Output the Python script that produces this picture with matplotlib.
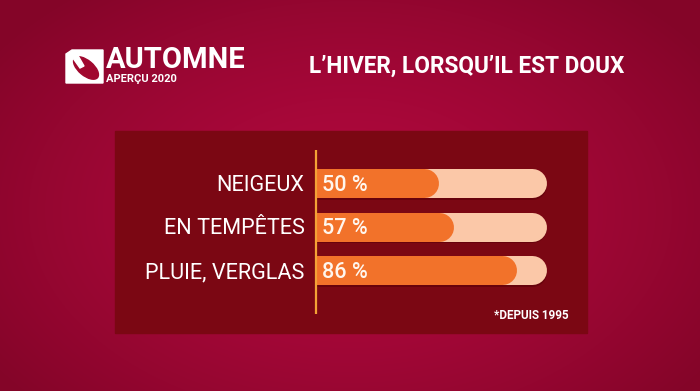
import numpy as np
from matplotlib import pyplot as plt
import matplotlib.patches as mpatches

categories = ['NEIGEUX', 'EN TEMPÊTES', 'PLUIE, VERGLAS']
values = [50, 57, 86]
value_labels = ['50 %', '57 %', '86 %']
title = 'L’HIVER, LORSQU’IL EST DOUX'
footnote = '*DEPUIS 1995'

W, H = 700, 391

fig = plt.figure(figsize=(W / 100, H / 100), dpi=100)

# background in pixel coordinates
bg = fig.add_axes([0, 0, 1, 1])
bg.set_xlim(0, W)
bg.set_ylim(H, 0)
bg.axis('off')
yy, xx = np.mgrid[0:H, 0:W]
r = np.sqrt(((xx - 350) / 430) ** 2 + ((yy - 210) / 280) ** 2)
r = np.clip(r, 0, 1)[..., None] ** 1.5
c_in = np.array([0.69, 0.03, 0.24])
c_out = np.array([0.52, 0.02, 0.16])
bg.imshow(c_in * (1 - r) + c_out * r, extent=(0, W, H, 0), aspect='auto', zorder=0)

# panel
bg.add_patch(mpatches.Rectangle((115, 131), 472, 202, color='#7b0713', zorder=1))

# logo
bg.add_patch(mpatches.Polygon([(66, 54), (72, 50), (103, 50), (103, 83), (66, 83)],
                              closed=True, color='white', zorder=2))
bg.add_patch(mpatches.Ellipse((86, 68), 30, 15, angle=40, color='#a0082e', zorder=3))
bg.add_patch(mpatches.Polygon([(70, 54), (76, 52), (84, 66), (80, 68)],
                              closed=True, color='white', zorder=4))
bg.text(106, 68, 'AUTOMNE', color='white', fontsize=21, fontweight='bold',
        family='Roboto', ha='left', va='baseline', zorder=5)
bg.text(106, 82.5, 'APERÇU 2020', color='white', fontsize=8, fontweight='bold',
        family='Roboto', ha='left', va='baseline', zorder=5)

bg.text(309, 73, title, color='white', fontsize=16.3, fontweight='bold',
        family='Roboto', ha='left', va='baseline', zorder=5)
bg.text(569, 319, footnote, color='white', fontsize=8.4, fontweight='bold',
        family='Roboto', ha='right', va='baseline', zorder=5)

# bar area
x0, x1, ytop, ybot = 316, 587, 131, 333
ax = fig.add_axes([x0 / W, 1 - ybot / H, (x1 - x0) / W, (ybot - ytop) / H])
ax.patch.set_visible(False)
scale = 2.16
step = 43.5
ax.set_xlim(0, (x1 - x0) / scale)
ax.set_ylim((ybot - 183) / step, (ytop - 183) / step)
for s in ax.spines.values():
    s.set_visible(False)
ax.set_xticks([])
ax.set_yticks([])

lw = 29 * 72 / 100
for i, (cat, v, lab) in enumerate(zip(categories, values, value_labels)):
    ax.plot([0, 100], [i + 0.04, i + 0.04], color='#5a0008', lw=lw,
            solid_capstyle='round', alpha=0.6)
    ax.plot([0, 100], [i, i], color='#fbc8a8', lw=lw, solid_capstyle='round')
    ax.plot([0, v], [i, i], color='#f2722a', lw=lw, solid_capstyle='round')
    ax.text(-11.5 / scale, i + 8 / step, cat, color='white', fontsize=15.6,
            family='Roboto', ha='right', va='baseline', clip_on=False)
    ax.text(6 / scale, i + 8 / step, lab, color='#fff6ee', fontsize=15.6,
            family='Roboto', fontweight='medium', ha='left', va='baseline')

ax.plot([0, 0], [(150 - 183) / step, (314 - 183) / step], color='#f4a236',
        lw=1.6, clip_on=False, solid_capstyle='butt')

plt.savefig('out.png', dpi=100)
